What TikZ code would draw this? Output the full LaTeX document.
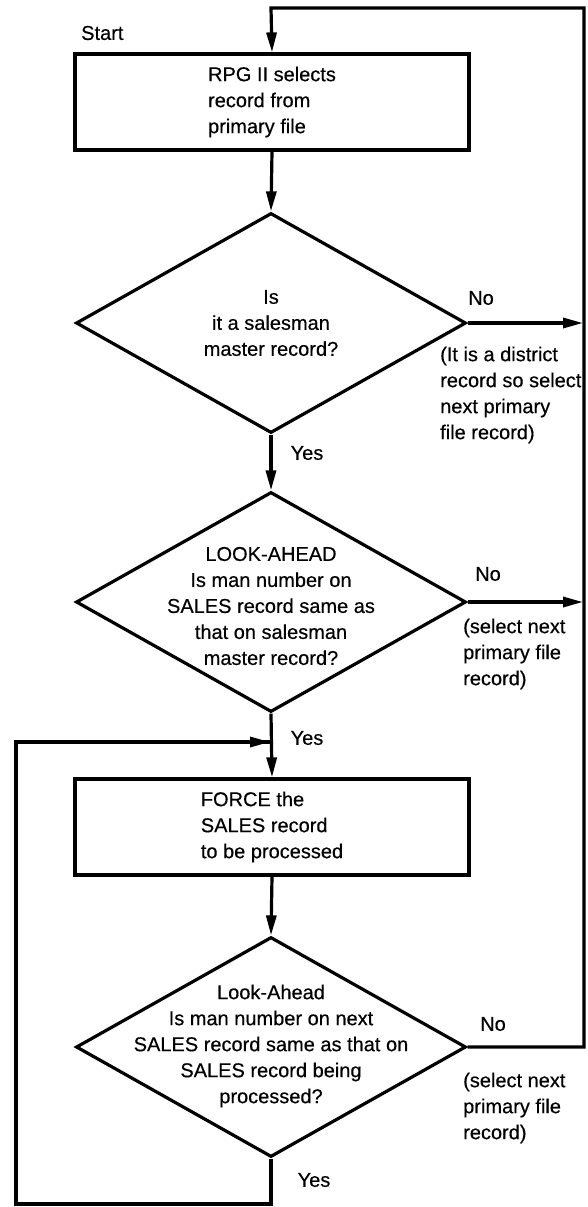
\documentclass[tikz,border=0pt]{standalone}
\usepackage{fontspec}
\setmainfont{Liberation Sans}[FakeBold=0.4]
\usetikzlibrary{shapes.geometric,arrows.meta}
\begin{document}
\begin{tikzpicture}[x=1pt,y=-1pt,
  every node/.style={font=\fontsize{20}{26}\selectfont},
  line/.style={line width=3.2pt},
  arr/.style={line width=3.2pt,-{Triangle[length=20pt,width=10pt]}},
  procbox/.style={draw,line width=3.2pt,minimum width=394pt,minimum height=96pt,align=left,inner sep=0pt},
  decbox/.style={draw,line width=3.2pt,shape=diamond,minimum width=390pt,minimum height=220pt,inner sep=0pt},
  dtext/.style={align=center,inner sep=0pt},
  note/.style={align=left,inner sep=0pt,anchor=west},
  lbl/.style={inner sep=0pt}]
\useasboundingbox (0,0) rectangle (587,1207);
\node[note] (start) at (81,33) {Start};
\node[procbox] (b1) at (272,102) {RPG II selects\\record from\\primary file};
\node[decbox] (d1) at (271,323) {};
\node[dtext] (d1t) at (271,323) {Is\\it a salesman\\master record?};
\node[decbox] (d2) at (271,602) {};
\node[dtext] (d2t) at (271,606) {LOOK-AHEAD\\Is man number on\\SALES record same as\\that on salesman\\master record?};
\node[procbox] (b2) at (272,827) {FORCE the\\SALES record\\to be processed};
\node[decbox] (d3) at (271,1047) {};
\node[dtext] (d3t) at (271,1046) {Look-Ahead\\Is man number on next\\SALES record same as that on\\SALES record being\\processed?};

\node[lbl] (no1) at (481,298) {No};
\node[lbl] (no2) at (488,574) {No};
\node[lbl] (no3) at (493,1024) {No};
\node[lbl] (yes1) at (307,453) {Yes};
\node[lbl] (yes2) at (307,738) {Yes};
\node[lbl] (yes3) at (314,1180) {Yes};
\node[note] (n1) at (440,395) {(It is a district\\record so select\\next primary\\file record)};
\node[note] (n2) at (463,654) {(select next\\primary file\\record)};
\node[note] (n3) at (463,1108) {(select next\\primary file\\record)};

\coordinate (r1) at (583,323);
\coordinate (r2) at (583,602);
\coordinate (r3) at (584,1047);
\coordinate (rt) at (584,8);
\coordinate (tt) at (271,8);
\coordinate (lb) at (271,1204);
\coordinate (lbl2) at (16,1204);
\coordinate (lt) at (16,742);
\coordinate (lj) at (270,742);

\draw[arr] (b1.south) -- (d1.north);
\draw[arr] (d1.south) -- (d2.north);
\draw[arr] (d2.south) -- (b2.north);
\draw[arr] (b2.south) -- (d3.north);
\draw[arr] (d1.east) -- (r1);
\draw[arr] (d2.east) -- (r2);
\draw[arr,line join=miter] (d3.east) -- (r3) -- (rt) -- (tt) -- (b1.north);
\draw[line,line join=miter] (d3.south) -- (lb) -- (lbl2) -- (lt) -- (lj);
\draw[arr] (lt) -- (lj);
\end{tikzpicture}
\end{document}
